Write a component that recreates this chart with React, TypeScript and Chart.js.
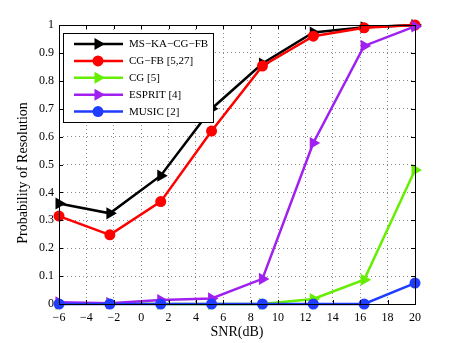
import React, { useEffect, useRef } from "react";
import { Chart, registerables } from "chart.js";

Chart.register(...registerables);

const snr = [-6, -2.286, 1.429, 5.143, 8.857, 12.571, 16.286, 20];
const msKaCgFb = [0.36, 0.325, 0.46, 0.7, 0.862, 0.973, 0.992, 1.0];
const cgFb = [0.315, 0.248, 0.367, 0.62, 0.853, 0.96, 0.99, 1.0];
const cg = [0.0, 0.003, 0.0, 0.0, 0.0, 0.018, 0.087, 0.48];
const esprit = [0.006, 0.003, 0.014, 0.02, 0.09, 0.577, 0.925, 0.995];
const music = [0.0, 0.0, 0.0, 0.0, 0.0, 0.0, 0.0, 0.075];

const seriesNames = ["MS\u2212KA\u2212CG\u2212FB", "CG\u2212FB [5,27]", "CG [5]", "ESPRIT [4]", "MUSIC [2]"];
const seriesColors = ["#000000", "#ff0000", "#66ee00", "#a020f0", "#1f3cff"];
const seriesMarkers = ["tri", "circle", "tri", "tri", "circle"];
const seriesValues = [msKaCgFb, cgFb, cg, esprit, music];

const xTicks = { min: -6, max: 20, step: 2 };
const yTicks = { min: 0, max: 1, step: 0.1 };
const xTitle = "SNR(dB)";
const yTitle = "Probability of Resolution";

const FONT = "'Liberation Serif', 'DejaVu Serif', serif";

function drawMarker(ctx: CanvasRenderingContext2D, kind: string, x: number, y: number, color: string) {
  ctx.save();
  ctx.fillStyle = color;
  ctx.beginPath();
  if (kind === "tri") {
    const r = 7;
    ctx.moveTo(x + r, y);
    ctx.lineTo(x - r / 2, y - r * 0.866);
    ctx.lineTo(x - r / 2, y + r * 0.866);
    ctx.closePath();
  } else {
    ctx.arc(x, y, 5.5, 0, Math.PI * 2);
  }
  ctx.fill();
  ctx.restore();
}

const framePlugin = {
  id: "frameAndLegend",
  afterDraw(chart: any) {
    const ctx = chart.ctx as CanvasRenderingContext2D;
    const { left, right, top, bottom } = chart.chartArea;
    const xs = chart.scales.x;
    const ys = chart.scales.y;
    ctx.save();
    ctx.strokeStyle = "#000";
    ctx.lineWidth = 1;
    ctx.strokeRect(Math.round(left) + 0.5, Math.round(top) + 0.5, Math.round(right - left), Math.round(bottom - top));
    const tl = 4;
    ctx.beginPath();
    for (let v = xTicks.min; v <= xTicks.max; v += xTicks.step) {
      const px = Math.round(xs.getPixelForValue(v)) + 0.5;
      ctx.moveTo(px, bottom);
      ctx.lineTo(px, bottom - tl);
      ctx.moveTo(px, top);
      ctx.lineTo(px, top + tl);
    }
    for (let i = 0; i <= 10; i++) {
      const v = yTicks.min + i * yTicks.step;
      const py = Math.round(ys.getPixelForValue(v)) + 0.5;
      ctx.moveTo(left, py);
      ctx.lineTo(left + tl, py);
      ctx.moveTo(right, py);
      ctx.lineTo(right - tl, py);
    }
    ctx.stroke();

    // y-axis title
    ctx.save();
    ctx.translate(23, 173);
    ctx.rotate(-Math.PI / 2);
    ctx.fillStyle = "#000";
    ctx.font = `14px ${FONT}`;
    ctx.textAlign = "center";
    ctx.textBaseline = "middle";
    ctx.fillText(yTitle, 0, 0);
    ctx.restore();

    // legend
    const lx = 63.5, ly = 33.5, lw = 150, lh = 89;
    ctx.fillStyle = "#fff";
    ctx.fillRect(lx, ly, lw, lh);
    ctx.strokeStyle = "#000";
    ctx.lineWidth = 1;
    ctx.strokeRect(lx, ly, lw, lh);
    ctx.font = `11px ${FONT}`;
    ctx.textBaseline = "middle";
    ctx.textAlign = "left";
    for (let i = 0; i < seriesNames.length; i++) {
      const y = 44 + i * 16.9;
      ctx.strokeStyle = seriesColors[i];
      ctx.lineWidth = 2.5;
      ctx.beginPath();
      ctx.moveTo(74, y);
      ctx.lineTo(123, y);
      ctx.stroke();
      drawMarker(ctx, seriesMarkers[i], 98, y, seriesColors[i]);
      ctx.fillStyle = "#000";
      ctx.fillText(seriesNames[i], 129, y + 0.5);
    }
    ctx.restore();
  },
};

export default function App() {
  const ref = useRef<HTMLCanvasElement | null>(null);
  useEffect(() => {
    if (!ref.current) return;
    const datasets = seriesNames.map((name, i) => ({
      label: name,
      data: snr.map((x, j) => ({ x, y: seriesValues[i][j] })),
      borderColor: seriesColors[i],
      backgroundColor: seriesColors[i],
      borderWidth: 2.5,
      pointStyle: seriesMarkers[i] === "tri" ? "triangle" : "circle",
      pointRotation: seriesMarkers[i] === "tri" ? 90 : 0,
      pointRadius: seriesMarkers[i] === "tri" ? 7 : 5.5,
      pointBorderWidth: 0,
      pointBackgroundColor: seriesColors[i],
      tension: 0,
      order: seriesNames.length - i,
      clip: 8,
    }));
    const chart = new Chart(ref.current, {
      type: "line",
      data: { datasets },
      options: {
        responsive: false,
        animation: false,
        events: [],
        layout: { padding: { top: 25, right: 43, left: 0, bottom: 0 } },
        plugins: { legend: { display: false }, tooltip: { enabled: false } },
        scales: {
          x: {
            type: "linear",
            min: xTicks.min,
            max: xTicks.max,
            afterFit: (s: any) => { s.height = 39; },
            ticks: {
              stepSize: xTicks.step,
              color: "#000",
              font: { family: FONT, size: 12 },
              padding: 7,
              maxRotation: 0,
              callback: (v: any) => (v < 0 ? "\u2212" + Math.abs(v) : String(v)),
            },
            grid: { color: "#8a8a8a", drawTicks: false, lineWidth: 1 },
            border: { display: false, dash: [1, 3] },
            title: {
              display: true,
              text: xTitle,
              color: "#000",
              font: { family: FONT, size: 14 },
              padding: { top: 0, bottom: 2.6 },
            },
          },
          y: {
            type: "linear",
            min: yTicks.min,
            max: yTicks.max,
            afterFit: (s: any) => { s.width = 59; },
            ticks: {
              stepSize: yTicks.step,
              color: "#000",
              font: { family: FONT, size: 12 },
              padding: 5,
              callback: (v: any) => String(+Number(v).toFixed(1)),
            },
            grid: { color: "#8a8a8a", drawTicks: false, lineWidth: 1 },
            border: { display: false, dash: [1, 3] },
          },
        },
      },
      plugins: [framePlugin],
    });
    return () => chart.destroy();
  }, []);
  return (
    <div style={{ position: "absolute", left: 0, top: 0, width: 458, height: 343, background: "#fff" }}>
      <canvas ref={ref} width={458} height={343} style={{ display: "block" }} />
    </div>
  );
}
